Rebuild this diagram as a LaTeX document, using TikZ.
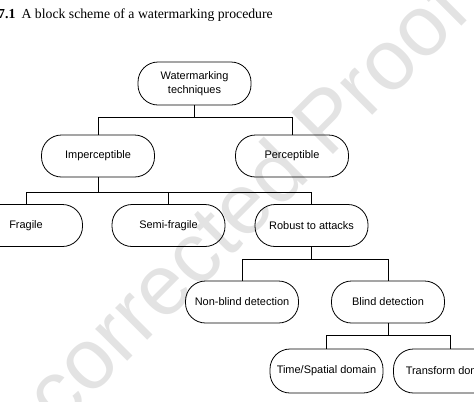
\documentclass[tikz,border=0pt]{standalone}
\usepackage{fontspec}
\setmainfont{Liberation Serif}
\newfontfamily\arialfont{Liberation Sans}
\usepackage{tikz}
\usetikzlibrary{calc}

\begin{document}
\begin{tikzpicture}[x=1bp,y=-1bp,
  block/.style={draw,line width=0.8pt,rounded corners=20bp,minimum width=113bp,minimum height=42bp,inner sep=2pt,align=center,font=\arialfont\fontsize{11}{14}\selectfont},
  link/.style={line width=0.8pt}]
\useasboundingbox (0,0) rectangle (474,401);
\clip (0,0) rectangle (474,401);
% watermark
\node[text=black!11,rotate=45,font=\arialfont\fontsize{86}{90}\selectfont] (proof) at (206,239) {Uncorrected Proof};
% caption
\node[anchor=base west,inner sep=0pt,font=\fontsize{13.8}{16}\selectfont] (caption) at (-2,18.3) {\textbf{7.1}\hspace{0.45em}A block scheme of a watermarking procedure};
% blocks
\node[block,minimum height=43bp] (wm) at (194.5,83.5) {Watermarking\\techniques};
\node[block] (imp) at (98,156) {Imperceptible};
\node[block] (per) at (292,156) {Perceptible};
\node[block] (fra) at (26,225.5) {Fragile};
\node[block] (semi) at (168.5,225.5) {Semi-fragile};
\node[block] (rob) at (311.5,225.5) {Robust to attacks};
\node[block] (nbd) at (242,302) {Non-blind detection};
\node[block] (bd) at (388,302) {Blind detection};
\node[block,minimum height=44bp] (tsd) at (326.5,371) {Time/Spatial domain};
\node[block,minimum height=44bp] (tfd) at (450,371) {Transform domain};
% links
\draw[link] (wm.south) -- ++(0,12) coordinate (j1);
\draw[link] (imp.north) |- (j1) -| (per.north);
\draw[link] (imp.south) -- ++(0,15) coordinate (j2);
\draw[link] (fra.north) |- (j2) -| (rob.north);
\draw[link] (semi.north) -- (semi.north |- j2);
\draw[link] (rob.south) -- ++(0,12) coordinate (j3);
\draw[link] (nbd.north) |- (j3) -| (bd.north);
\draw[link] (bd.south) -- ++(0,12) coordinate (j4);
\draw[link] (tsd.north) |- (j4) -| (tfd.north);
\end{tikzpicture}
\end{document}
